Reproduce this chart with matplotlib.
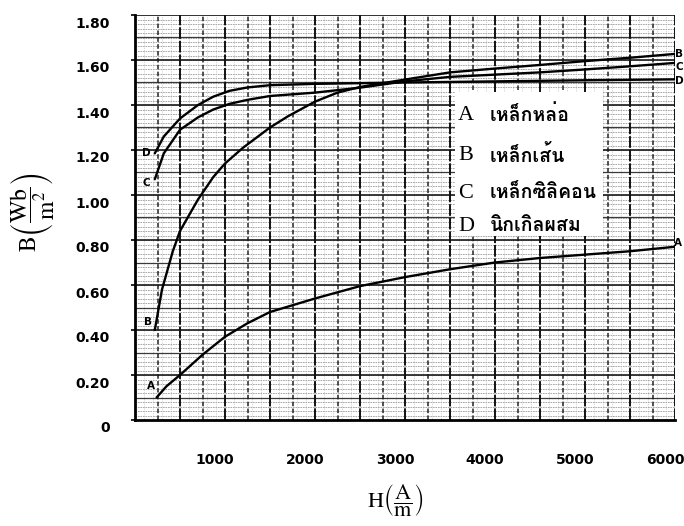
import numpy as np
import matplotlib
matplotlib.use("Agg")
import matplotlib.pyplot as plt
import matplotlib.transforms as mtransforms
from matplotlib import font_manager
from matplotlib.ft2font import FT2Font
from matplotlib.patches import Rectangle

# magnetisation curves (H in A/m, B in Wb/m^2)
h_a = [240, 350, 500, 750, 1000, 1250, 1500, 2000, 2500, 3000, 3500, 4000, 4500, 5000, 5500, 6000]
b_a = [0.10, 0.15, 0.20, 0.29, 0.37, 0.43, 0.48, 0.54, 0.595, 0.635, 0.67, 0.70, 0.72, 0.735, 0.75, 0.77]

h_b = [220, 300, 420, 500, 700, 870, 1000, 1200, 1500, 1700, 2000, 2250, 2500, 2750,
       3000, 3500, 4000, 4500, 5000, 5500, 6000]
b_b = [0.40, 0.58, 0.75, 0.84, 0.98, 1.08, 1.14, 1.21, 1.30, 1.35, 1.415, 1.455, 1.48, 1.497,
       1.513, 1.545, 1.562, 1.578, 1.595, 1.61, 1.627]

h_c = [220, 320, 500, 700, 870, 1050, 1250, 1500, 2000, 2500, 3000, 3500, 4000, 4500, 5000, 5500, 6000]
b_c = [1.07, 1.185, 1.29, 1.345, 1.38, 1.405, 1.423, 1.44, 1.455, 1.477, 1.505, 1.525, 1.535,
       1.545, 1.558, 1.572, 1.587]

h_d = [220, 320, 500, 700, 870, 1050, 1250, 1500, 2000, 2500, 3000, 4000, 5000, 6000]
b_d = [1.185, 1.26, 1.34, 1.40, 1.437, 1.463, 1.478, 1.488, 1.494, 1.497, 1.50, 1.505, 1.51, 1.514]

curve_letters = ["A", "B", "C", "D"]
materials = ["เหล็กหล่อ", "เหล็กเส้น", "เหล็กซิลิคอน", "นิกเกิลผสม"]

x_ticks = [1000, 2000, 3000, 4000, 5000, 6000]
y_ticks = [0, 0.2, 0.4, 0.6, 0.8, 1.0, 1.2, 1.4, 1.6, 1.8]
y_tick_labels = ["0", "0.20", "0.40", "0.60", "0.80", "1.00", "1.20", "1.40", "1.60", "1.80"]


def find_thai_font():
    """first installed font that has Thai glyphs"""
    for entry in font_manager.fontManager.ttflist:
        try:
            if 0x0E2B in FT2Font(entry.fname).get_charmap():
                return entry.name
        except Exception:
            continue
    return "DejaVu Sans"


def draw_graph_paper(ax):
    # fine ruling of the paper
    for y in np.arange(0, 1.8001, 0.02):
        ax.axhline(y, color="#9a9a9a", lw=0.6, ls=(0, (2, 1)), zorder=0)
    for x in np.arange(0, 6001, 100):
        ax.axvline(x, color="#b0b0b0", lw=0.5, ls=(0, (1, 1.5)), zorder=0)
    # half divisions
    for y in np.arange(0.1, 1.8, 0.2):
        ax.axhline(y, color="#3a3a3a", lw=0.9, zorder=1)
    for x in np.arange(250, 6000, 500):
        ax.axvline(x, color="#222222", lw=1.1, ls=(0, (3, 1.5)), zorder=1)
    # main divisions
    for y in np.arange(0.2, 1.8001, 0.2):
        ax.axhline(y, color="#1a1a1a", lw=1.2, zorder=1)
    for x in np.arange(500, 6001, 500):
        ax.axvline(x, color="#111111", lw=1.4, ls=(0, (6, 1)), zorder=1)


def main():
    plt.rcParams["mathtext.fontset"] = "stix"
    thai_font = find_thai_font()

    fig = plt.figure(figsize=(6.84, 5.26), dpi=100)
    ax = fig.add_axes([135 / 684, 106 / 526, 540 / 684, 405 / 526])
    ax.set_xlim(0, 6000)
    ax.set_ylim(0, 1.8)

    draw_graph_paper(ax)

    curves = [(h_a, b_a), (h_b, b_b), (h_c, b_c), (h_d, b_d)]
    for h, b in curves:
        ax.plot(h, b, color="black", lw=1.7, zorder=4, solid_capstyle="round")

    # curve end letters
    start_offsets = {"A": (-4, 8), "B": (-5, 6), "C": (-6, -3), "D": (-6, 0)}
    end_offsets = {"A": (2, 3), "B": (3, 0), "C": (3, -3), "D": (3, -1)}
    for letter, (h, b) in zip(curve_letters, curves):
        ax.annotate(letter, (h[0], b[0]), xytext=start_offsets[letter],
                    textcoords="offset points", ha="center", va="center",
                    fontsize=7.5, fontweight="bold", annotation_clip=False, zorder=5)
        ax.annotate(letter, (h[-1], b[-1]), xytext=end_offsets[letter],
                    textcoords="offset points", ha="center", va="center",
                    fontsize=7.5, fontweight="bold", annotation_clip=False, zorder=5)

    # key box
    ax.add_patch(Rectangle((0.593, 0.455), 0.274, 0.355, transform=ax.transAxes,
                           facecolor="white", edgecolor="none", zorder=2))
    rows = [0.753, 0.654, 0.560, 0.479]
    for letter, name, y in zip(curve_letters, materials, rows):
        ax.text(0.598, y, letter, transform=ax.transAxes, fontsize=16,
                family="Liberation Serif", va="center", zorder=3)
        ax.text(0.657, y, name, transform=ax.transAxes, fontsize=14,
                family=[thai_font, "DejaVu Sans"], fontweight="bold", va="center", zorder=3)

    # axes styling
    for side in ["top", "right"]:
        ax.spines[side].set_visible(False)
    ax.spines["left"].set_linewidth(2)
    ax.spines["bottom"].set_linewidth(2)
    ax.spines["left"].set_zorder(5)
    ax.spines["bottom"].set_zorder(5)

    ax.set_xticks(x_ticks)
    ax.set_xticklabels([str(t) for t in x_ticks])
    ax.set_yticks(y_ticks)
    ax.set_yticklabels(y_tick_labels)
    ax.tick_params(axis="x", length=0, pad=24, labelsize=10)
    ax.tick_params(axis="y", length=3, width=1.2, pad=15, labelsize=10)
    for lab in ax.get_xticklabels() + ax.get_yticklabels():
        lab.set_fontweight("bold")
    shift_x = mtransforms.ScaledTranslation(-10 / 100, 0, fig.dpi_scale_trans)
    for lab in ax.get_xticklabels():
        lab.set_transform(lab.get_transform() + shift_x)
    shift_y = mtransforms.ScaledTranslation(0, -7 / 100, fig.dpi_scale_trans)
    for lab in ax.get_yticklabels():
        lab.set_transform(lab.get_transform() + shift_y)

    fig.text(395 / 684, 1 - 500 / 526,
             r"$\mathrm{H}\left(\dfrac{\mathrm{A}}{\mathrm{m}}\right)$",
             ha="center", va="center", fontsize=16)
    fig.text(33 / 684, 1 - 212 / 526,
             r"$\mathrm{B}\left(\dfrac{\mathrm{Wb}}{\mathrm{m}^2}\right)$",
             ha="center", va="center", fontsize=17, rotation=90)

    fig.savefig("out.png", dpi=100)


if __name__ == "__main__":
    main()
